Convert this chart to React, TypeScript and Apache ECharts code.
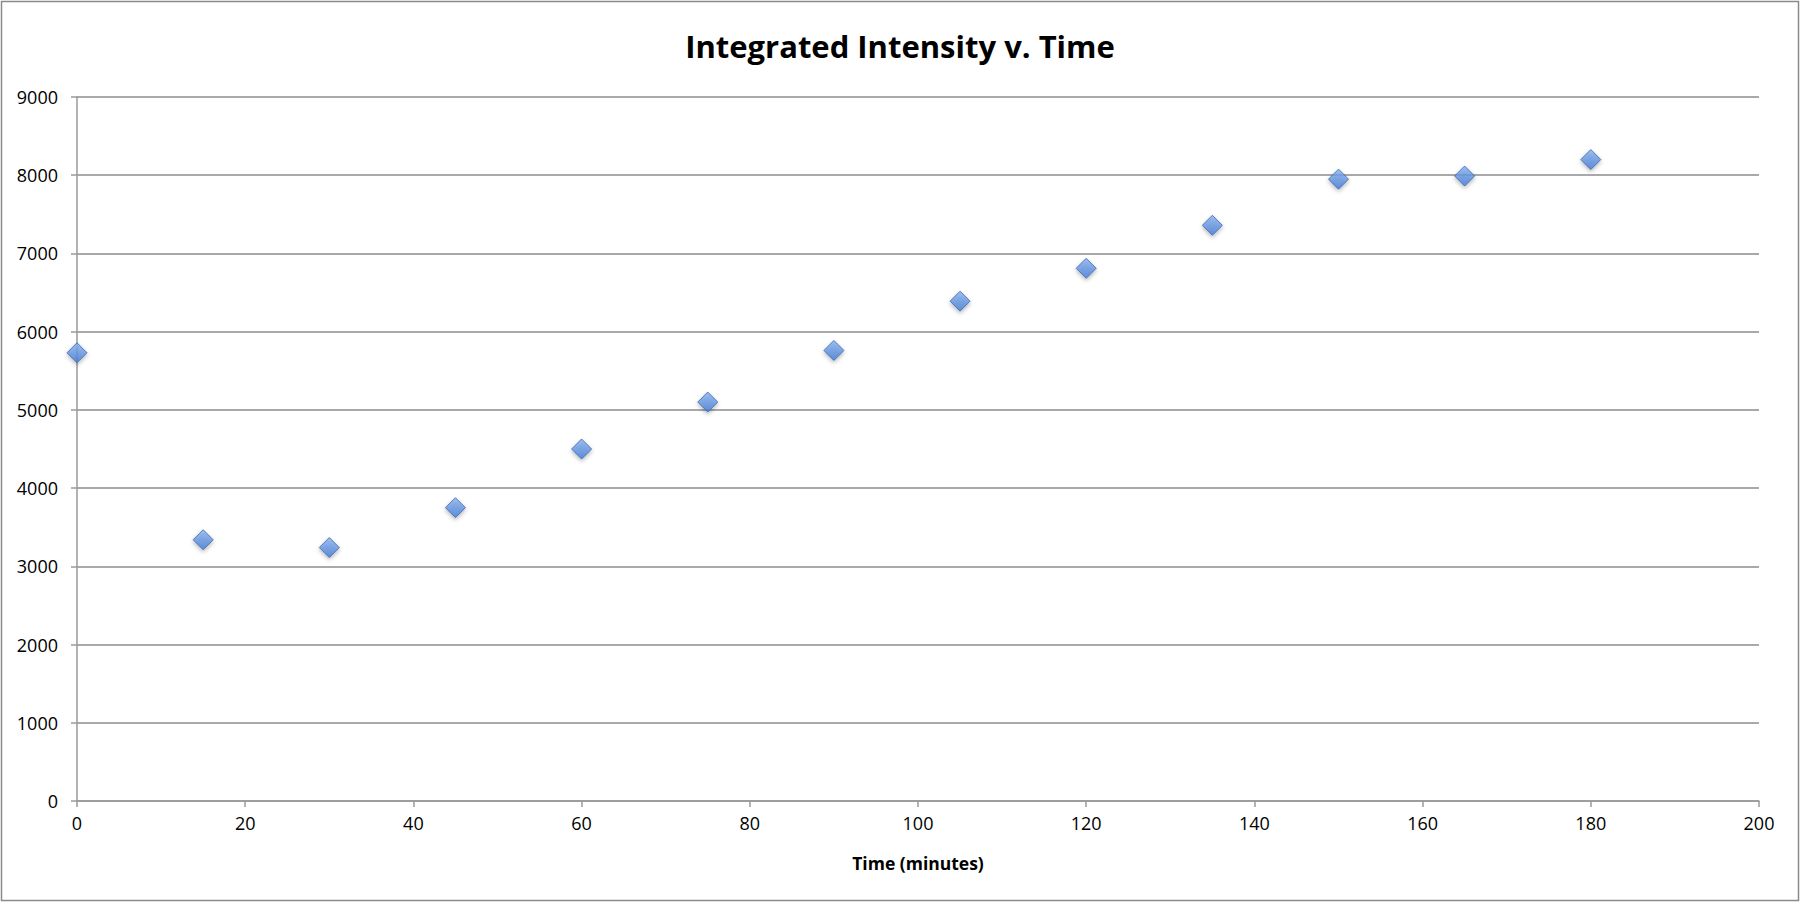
import React, { useEffect, useRef } from "react";
import * as echarts from "echarts";

const times = [0, 15, 30, 45, 60, 75, 90, 105, 120, 135, 150, 165, 180];
const intensity = [5730, 3340, 3240, 3750, 4500, 5100, 5760, 6390, 6810, 7360, 7950, 7990, 8200];
const titleText = "Integrated Intensity v. Time";
const xAxisName = "Time (minutes)";

export default function App() {
  const ref = useRef<HTMLDivElement>(null);
  useEffect(() => {
    document.body.style.margin = "0";
    const chart = echarts.init(ref.current!, null, { renderer: "svg" });
    const font = "'Open Sans', 'Noto Sans', sans-serif";
    chart.setOption({
      animation: false,
      backgroundColor: "#ffffff",
      textStyle: { fontFamily: font },
      title: {
        text: titleText,
        left: 895,
        textAlign: "center",
        top: 25,
        textStyle: { fontFamily: font, fontSize: 31, fontWeight: "bold", color: "#000" },
      },
      graphic: [
        {
          type: "rect",
          shape: { x: 1.5, y: 1.5, width: 1797, height: 899 },
          style: { fill: "none", stroke: "#8a8a8a", lineWidth: 1.5 },
          silent: true,
        },
      ],
      grid: { left: 77, right: 43, top: 97, bottom: 102, containLabel: false },
      xAxis: {
        type: "value",
        min: 0,
        max: 200,
        interval: 20,
        name: xAxisName,
        nameLocation: "middle",
        nameGap: 53,
        nameTextStyle: { fontFamily: font, fontSize: 17.5, fontWeight: "bold", color: "#000" },
        axisLine: { show: true, lineStyle: { color: "#9a9a9a", width: 1.5 } },
        axisTick: { show: true, length: 6, lineStyle: { color: "#9a9a9a", width: 1.5 } },
        axisLabel: { fontFamily: font, fontSize: 18, color: "#000", margin: 13 },
        splitLine: { show: false },
      },
      yAxis: {
        type: "value",
        min: 0,
        max: 9000,
        interval: 1000,
        axisLine: { show: true, lineStyle: { color: "#9a9a9a", width: 1.5 } },
        axisTick: { show: true, length: 6, lineStyle: { color: "#9a9a9a", width: 1.5 } },
        axisLabel: {
          fontFamily: font,
          fontSize: 18,
          color: "#000",
          margin: 19,
          formatter: (v: number) => String(v),
        },
        splitLine: { show: true, lineStyle: { color: "#8c8c8c", width: 1.5 } },
      },
      series: [
        {
          type: "scatter",
          data: times.map((t, i) => [t, intensity[i]]),
          symbol: "diamond",
          symbolSize: [20, 20],
          itemStyle: {
            color: new echarts.graphic.LinearGradient(0, 0, 0, 1, [
              { offset: 0, color: "#88b2f0" },
              { offset: 1, color: "#447cd6" },
            ]),
            borderColor: "#3765ae",
            borderWidth: 1,
            shadowBlur: 4,
            shadowOffsetY: 2,
            shadowColor: "rgba(0,0,0,0.35)",
          },
        },
      ],
    });
    return () => chart.dispose();
  }, []);
  return <div ref={ref} style={{ width: 1802, height: 903 }} />;
}
